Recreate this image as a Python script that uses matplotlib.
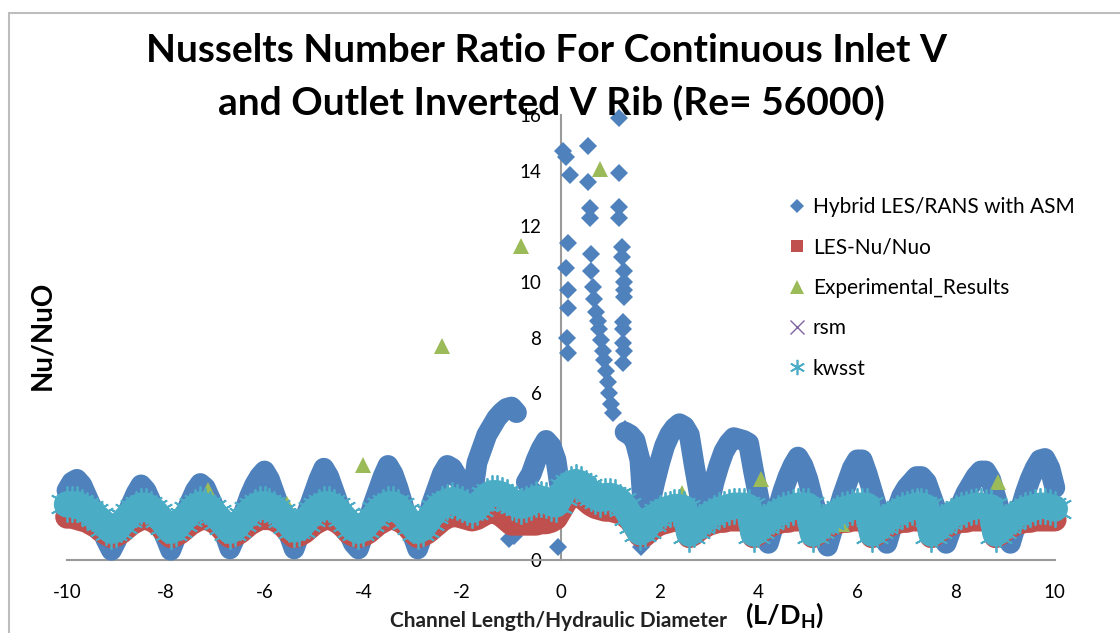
import matplotlib.pyplot as plt
from matplotlib.lines import Line2D
from matplotlib.patches import Rectangle
import numpy as np

plt.rcParams['font.family'] = ['Lato', 'DejaVu Sans']
plt.rcParams['axes.unicode_minus'] = False

# channel position L/Dh, the CFD values are sampled every 0.1
x_grid = np.round(np.linspace(-10, 10, 201), 1)

# Hybrid LES/RANS with ASM (nan = no point on the main curve)
nan = np.nan
hybrid = [
    2.5, 2.8, 2.9, 2.7, 2.3, 1.9, 1.5, 1.1, 0.7, 0.35,
    0.7, 1.2, 1.6, 2.0, 2.4, 2.7, 2.5, 2.1, 1.7, 1.2,
    0.8, 0.35, 0.8, 1.2, 1.7, 2.1, 2.5, 2.75, 2.6, 2.2,
    1.8, 1.3, 0.9, 0.4, 0.8, 1.3, 1.8, 2.3, 2.7, 3.0,
    3.2, 2.9, 2.4, 1.9, 1.4, 0.9, 0.4, 0.9, 1.4, 1.9,
    2.4, 2.9, 3.3, 3.0, 2.5, 2.0, 1.5, 1.0, 0.6, 0.4,
    0.9, 1.4, 2.0, 2.5, 3.0, 3.4, 3.1, 2.6, 2.0, 1.4,
    0.9, 0.4, 0.9, 1.5, 2.1, 2.6, 3.1, 3.4, 3.3, 3.0,
    2.7, 2.4, 2.2, 3.5, 4.0, 4.5, 4.8, 5.1, 5.3, 5.45,
    5.5, 5.3, nan, 2.8, 3.1, 3.6, 4.0, 4.3, 4.1, 3.6,
    2.4, nan, nan, nan, nan, nan, nan, nan, nan, nan,
    nan, nan, nan, 4.6, 4.5, 4.3, 3.6, 1.0, 2.0, 2.8,
    3.5, 4.1, 4.5, 4.75, 4.9, 4.8, 4.5, 3.4, 2.4, 1.5,
    2.0, 2.8, 3.4, 3.9, 4.2, 4.4, 4.35, 4.3, 4.2, 3.2,
    2.3, 1.4, 0.6, 1.2, 1.9, 2.5, 3.0, 3.4, 3.7, 3.4,
    2.9, 2.2, 1.6, 1.0, 0.5, 1.1, 1.7, 2.3, 2.8, 3.3,
    3.6, 3.6, 3.1, 2.5, 1.9, 1.2, 0.6, 1.2, 1.8, 2.3,
    2.6, 2.8, 3.0, 3.0, 2.8, 2.3, 1.8, 1.2, 0.6, 1.1,
    1.6, 2.0, 2.4, 2.7, 3.0, 3.2, 3.2, 2.9, 2.3, 1.7,
    1.1, 0.6, 1.2, 1.8, 2.4, 2.9, 3.3, 3.6, 3.65, 3.3,
    2.6,
]

# scattered Hybrid points near the ribs at x = 0 .. 1.6
hybrid_x2 = [-1.75, -1.72, -1.05, -0.95, -0.55, -0.05,
             0.05, 0.1, 0.18, 0.15, 0.1, 0.15, 0.15, 0.12, 0.15,
             0.55, 0.55, 0.58, 0.58, 0.6, 0.6, 0.65, 0.68, 0.72, 0.75, 0.78,
             0.82, 0.85, 0.88, 0.92, 0.95, 0.98, 1.02, 1.05,
             1.18, 1.18, 1.18, 1.18, 1.23, 1.23, 1.28, 1.28, 1.28, 1.28,
             1.25, 1.25, 1.25, 1.27, 1.25,
             1.3, 1.62, 1.62, 1.62, 1.62, 1.62, 1.68]
hybrid_y2 = [2.7, 3.1, 0.75, 0.85, 2.6, 0.45,
             14.7, 14.5, 13.85, 11.4, 10.5, 9.7, 9.05, 8.0, 7.45,
             14.9, 13.6, 12.65, 12.3, 11.0, 10.4, 9.8, 9.4, 8.9, 8.6, 8.3,
             7.9, 7.5, 7.2, 6.8, 6.4, 6.0, 5.6, 5.3,
             15.9, 13.9, 12.7, 12.3, 11.25, 10.9, 10.4, 10.0, 9.7, 9.45,
             8.55, 8.3, 7.8, 7.5, 7.1,
             4.7, 3.1, 2.6, 2.15, 0.47, 0.8, 0.6]

les = [
    1.55, 1.55, 1.5, 1.45, 1.4, 1.3, 1.2, 1.05, 0.95, 0.85,
    0.9, 1.0, 1.15, 1.3, 1.4, 1.5, 1.5, 1.45, 1.35, 1.2,
    1.0, 0.85, 0.9, 1.0, 1.15, 1.3, 1.4, 1.5, 1.5, 1.45,
    1.35, 1.2, 1.0, 0.85, 0.9, 1.0, 1.15, 1.3, 1.4, 1.5,
    1.5, 1.5, 1.45, 1.35, 1.2, 1.0, 0.85, 0.9, 1.0, 1.15,
    1.3, 1.4, 1.5, 1.5, 1.45, 1.35, 1.2, 1.0, 0.9, 0.85,
    0.9, 1.0, 1.15, 1.3, 1.4, 1.5, 1.5, 1.45, 1.35, 1.2,
    1.0, 0.85, 0.9, 1.0, 1.15, 1.3, 1.45, 1.55, 1.6, 1.6,
    1.55, 1.5, 1.45, 1.5, 1.6, 1.7, 1.75, 1.7, 1.6, 1.45,
    1.3, 1.3, 1.3, 1.3, 1.3, 1.3, 1.35, 1.35, 1.4, 1.5,
    1.8, 2.1, 2.3, 2.4, 2.3, 2.15, 2.0, 1.9, 1.85, 1.8,
    1.8, 1.75, 1.7, 1.6, 1.45, 1.2, 0.9, 0.9, 1.05, 1.2,
    1.3, 1.35, 1.4, 1.45, 1.45, 1.45, 0.85, 0.95, 1.1, 1.2,
    1.3, 1.35, 1.4, 1.4, 1.45, 1.45, 1.45, 1.45, 1.45, 0.85,
    0.95, 1.1, 1.2, 1.3, 1.35, 1.4, 1.4, 1.45, 1.45, 1.45,
    1.45, 0.85, 0.95, 1.1, 1.2, 1.3, 1.35, 1.4, 1.4, 1.45,
    1.45, 1.45, 1.45, 0.85, 0.95, 1.1, 1.2, 1.3, 1.35, 1.4,
    1.4, 1.45, 1.45, 1.45, 1.45, 0.85, 0.95, 1.1, 1.2, 1.3,
    1.35, 1.4, 1.4, 1.45, 1.45, 1.45, 1.45, 1.45, 0.85, 0.95,
    1.1, 1.2, 1.3, 1.35, 1.4, 1.4, 1.45, 1.45, 1.45, 1.45,
    1.45,
]

kwsst = [
    2.0, 2.0, 2.0, 1.9, 1.8, 1.7, 1.55, 1.4, 1.2, 1.05,
    1.1, 1.3, 1.5, 1.7, 1.85, 1.95, 1.95, 1.85, 1.7, 1.5,
    1.25, 1.05, 1.15, 1.35, 1.55, 1.75, 1.9, 2.0, 1.95, 1.85,
    1.65, 1.45, 1.25, 1.05, 1.15, 1.35, 1.55, 1.75, 1.9, 2.0,
    2.0, 1.95, 1.85, 1.7, 1.5, 1.3, 1.1, 1.15, 1.35, 1.55,
    1.75, 1.9, 2.0, 2.0, 1.9, 1.75, 1.55, 1.35, 1.15, 1.05,
    1.15, 1.35, 1.55, 1.75, 1.9, 2.0, 2.0, 1.9, 1.7, 1.45,
    1.25, 1.05, 1.15, 1.4, 1.65, 1.85, 2.0, 2.1, 2.15, 2.1,
    2.0, 1.9, 1.8, 1.9, 2.1, 2.3, 2.4, 2.4, 2.35, 2.25,
    2.1, 2.0, 1.95, 2.0, 2.1, 2.2, 2.2, 2.15, 2.05, 2.0,
    2.3, 2.6, 2.75, 2.8, 2.75, 2.6, 2.4, 2.3, 2.2, 2.3,
    2.3, 2.25, 2.1, 1.9, 1.6, 1.3, 1.0, 1.1, 1.35, 1.55,
    1.7, 1.8, 1.85, 1.9, 1.9, 1.85, 0.95, 1.1, 1.3, 1.45,
    1.6, 1.7, 1.8, 1.85, 1.9, 1.95, 1.95, 1.95, 1.9, 0.95,
    1.1, 1.3, 1.45, 1.6, 1.7, 1.8, 1.85, 1.9, 1.95, 1.95,
    1.95, 0.95, 1.1, 1.3, 1.45, 1.6, 1.7, 1.8, 1.85, 1.9,
    1.95, 1.95, 1.95, 0.95, 1.1, 1.3, 1.45, 1.6, 1.7, 1.8,
    1.85, 1.9, 1.95, 1.95, 1.9, 0.95, 1.1, 1.3, 1.45, 1.6,
    1.7, 1.8, 1.85, 1.9, 1.95, 1.95, 1.9, 1.9, 0.95, 1.1,
    1.3, 1.45, 1.6, 1.7, 1.8, 1.85, 1.9, 1.95, 1.95, 1.9,
    1.85,
]

rsm_x = [-9.8, -9.5, -9.2, -8.9, -8.6, -8.2, -7.9, -7.6, -7.3, -7.0,
         -6.7, -6.4, -6.0, -5.7, -5.4, -5.1, -4.8, -4.4, -4.1, -3.8,
         -3.5, -3.1, -2.8, -2.4, -2.0, -1.6, -1.2, -0.8, -0.4, 0.0,
         0.4, 0.8, 1.2, 1.6, 2.0, 2.4, 2.8, 3.2, 3.6, 4.0,
         4.4, 4.8, 5.2, 5.6, 6.0, 6.4, 6.8, 7.2, 7.6, 8.0,
         8.4, 8.8, 9.2, 9.6, 10.0]
rsm_y = [1.9, 1.6, 1.1, 1.2, 1.8, 1.6, 1.0, 1.5, 1.9, 1.6,
         1.1, 1.5, 1.9, 1.6, 1.1, 1.5, 1.9, 1.6, 1.0, 1.6,
         1.9, 1.4, 1.2, 1.8, 1.9, 2.2, 2.3, 1.9, 2.1, 2.2,
         2.6, 2.2, 2.0, 1.1, 1.7, 1.8, 1.2, 1.7, 1.9, 1.0,
         1.5, 1.8, 1.1, 1.6, 1.9, 1.0, 1.6, 1.9, 1.1, 1.6,
         1.8, 1.0, 1.3, 1.7, 1.8]

exp_x = [-8.7, -7.15, -5.55, -4.0, -2.4, -0.8, 0.8, 2.45, 4.05, 5.7, 7.3, 8.85]
exp_y = [1.55, 2.5, 2.0, 3.4, 7.7, 11.3, 14.05, 2.4, 2.9, 1.3, 1.9, 2.8]

c_blue = '#4F81BD'
c_red = '#C0504D'
c_green = '#9BBB59'
c_purple = '#8064A2'
c_cyan = '#4BACC6'

fig = plt.figure(figsize=(11.2, 6.33), dpi=100)
ax = fig.add_axes([0.0598, 0.1153, 0.882, 0.703])

# the dense CFD points merge into solid bands, so each band is drawn thick
band = dict(solid_joinstyle='round', solid_capstyle='round', clip_on=False)
ax.plot(x_grid, hybrid, '-', color=c_blue, lw=15, zorder=3, **band)
ax.plot(x_grid, hybrid, 'D', color=c_blue, ms=9.5, mew=0, clip_on=False, zorder=3)
ax.plot(hybrid_x2, hybrid_y2, 'D', color=c_blue, ms=9.5, mew=0, clip_on=False, zorder=3)
ax.plot(x_grid, les, '-', color=c_red, lw=17, zorder=4, **band)
ax.plot(x_grid, les, 's', color=c_red, ms=12, mew=0, clip_on=False, zorder=4)
ax.plot(exp_x, exp_y, '^', color=c_green, ms=12, mew=0, clip_on=False, zorder=5)
ax.plot(rsm_x, rsm_y, 'x', color=c_purple, ms=9, mew=1, clip_on=False, zorder=6)
ax.plot(x_grid, kwsst, '-', color=c_cyan, lw=19, zorder=7, **band)
ax.plot(x_grid, kwsst, marker=(6, 2, 0), ls='none', color=c_cyan, ms=26, mew=1.3,
        clip_on=False, zorder=7)

ax.set_xlim(-10, 10)
ax.set_ylim(0, 16)
ax.set_xticks(np.arange(-10, 11, 2))
ax.set_yticks(np.arange(0, 17, 2))
ax.spines['top'].set_visible(False)
ax.spines['right'].set_visible(False)
ax.spines['left'].set_position(('data', 0))
ax.spines['bottom'].set_position(('data', 0))
for s in ('left', 'bottom'):
    ax.spines[s].set_color('#9A9A9A')
    ax.spines[s].set_linewidth(1.5)
    ax.spines[s].set_zorder(2)
ax.tick_params(axis='x', length=0, pad=17, labelsize=13.5)
ax.tick_params(axis='y', length=0, pad=14, labelsize=13.5)
ax.patch.set_alpha(0)

fig.text(0.488, 0.921, 'Nusselts Number Ratio For Continuous Inlet V',
         ha='center', va='center', fontsize=28, fontweight='bold')
fig.text(0.492, 0.837, 'and Outlet Inverted V Rib (Re= 56000)',
         ha='center', va='center', fontsize=28, fontweight='bold')
fig.text(0.038, 0.47, 'Nu/NuO', rotation=90, ha='center', va='center',
         fontsize=20, fontweight='bold')
fig.text(0.499, 0.019, 'Channel Length/Hydraulic Diameter', ha='center', va='center',
         fontsize=15, fontweight='bold', color='#222222')
fig.text(0.665, 0.029, r'(L/D$_{\mathregular{H}}$)', ha='left', va='center',
         fontsize=19.5, fontweight='bold')

handles = [
    Line2D([], [], ls='none', marker='D', color=c_blue, ms=7, mew=0),
    Line2D([], [], ls='none', marker='s', color=c_red, ms=9, mew=0),
    Line2D([], [], ls='none', marker='^', color=c_green, ms=10, mew=0),
    Line2D([], [], ls='none', marker='x', color=c_purple, ms=10, mew=1),
    Line2D([], [], ls='none', marker=(6, 2, 0), color=c_cyan, ms=11, mew=1.2),
]
labels = ['Hybrid LES/RANS with ASM', 'LES-Nu/Nuo', 'Experimental_Results', 'rsm', 'kwsst']
fig.legend(handles, labels, loc='upper left', bbox_to_anchor=(0.697, 0.702),
           frameon=False, fontsize=15, labelspacing=0.98, handlelength=0.8,
           handletextpad=0.35, borderaxespad=0)

fig.patches.append(Rectangle((0.008, -0.1), 1.2, 1.08, transform=fig.transFigure,
                             fill=False, edgecolor='#BDBDBD', linewidth=1.5))

fig.savefig('out.png', dpi=100)
